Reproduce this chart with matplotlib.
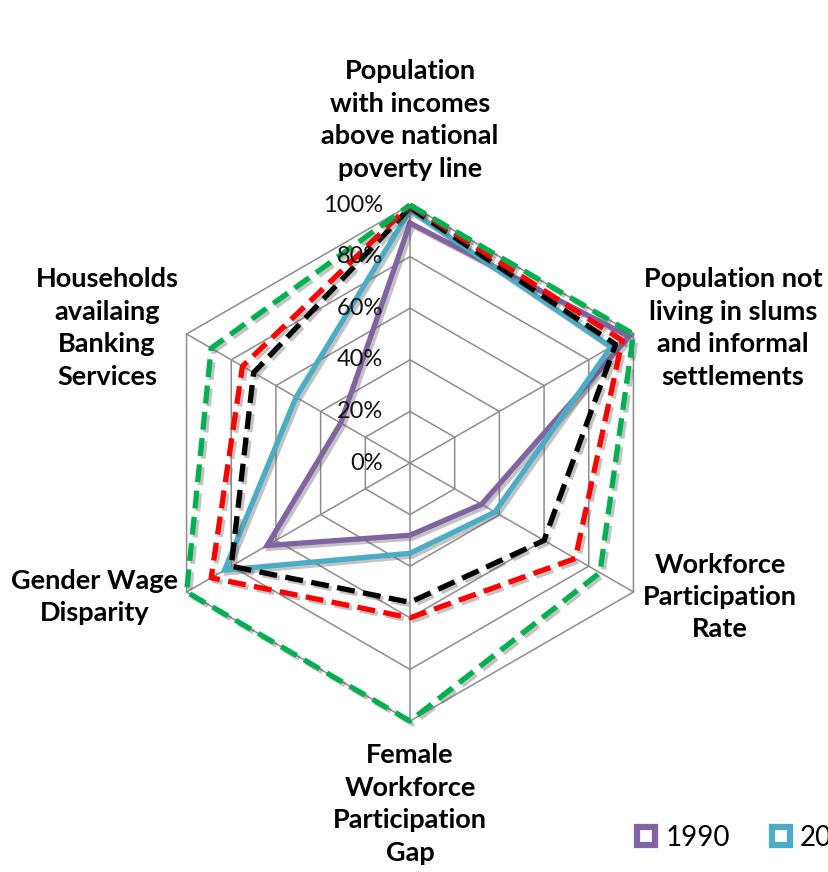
import numpy as np
import matplotlib.pyplot as plt
import matplotlib.patheffects as pe
from matplotlib.lines import Line2D

# Indicator axes, clockwise from the top
categories = ['Population\nwith incomes\nabove national\npoverty line',
              'Population not\nliving in slums\nand informal\nsettlements',
              'Workforce\nParticipation\nRate',
              'Female\nWorkforce\nParticipation\nGap',
              'Gender Wage\nDisparity',
              'Households\navailaing\nBanking\nServices']

years = ['1990', '2000', '2010', '2020', '2030']
v1990 = [93, 98, 32, 28, 64, 31]
v2000 = [98, 90, 38, 35, 83, 51]
v2010 = [99, 92, 60, 54, 80, 70]
v2020 = [100, 95, 74, 60, 89, 75]
v2030 = [100, 100, 85, 100, 100, 89]

grid_levels = [0, 20, 40, 60, 80, 100]
grid_labels = ['0%', '20%', '40%', '60%', '80%', '100%']

colors = ['#8064a2', '#4bacc6', '#000000', '#ff0000', '#00b050']
styles = ['-', '-', (0, (3.4, 1.6)), (0, (3.4, 1.6)), (0, (3.4, 1.6))]

W, H = 829, 872
fig = plt.figure(figsize=(W / 100, H / 100), dpi=100)

cx, cy, R = 410, 463, 258
ax = fig.add_axes([(cx - R) / W, 1 - (cy + R) / H, 2 * R / W, 2 * R / H],
                  projection='polar')
ax.set_theta_offset(np.pi / 2)
ax.set_theta_direction(-1)
ax.set_ylim(0, 100)
ax.grid(False)
ax.spines['polar'].set_visible(False)
ax.set_xticks([])
ax.set_yticks([])
ax.patch.set_alpha(0)

theta = np.linspace(0, 2 * np.pi, len(categories), endpoint=False)
theta_c = np.append(theta, theta[0])

# hexagonal grid and spokes
for lv in grid_levels:
    ax.plot(theta_c, [lv] * len(theta_c), color='#8c8c8c', lw=1.1, zorder=1,
            clip_on=False)
for t in theta:
    ax.plot([t, t], [0, 100], color='#8c8c8c', lw=1.1, zorder=1, clip_on=False)

shadow = [pe.SimpleLineShadow(offset=(2, -2), shadow_color='#555555', alpha=0.35),
          pe.Normal()]
series = [v1990, v2000, v2010, v2020, v2030]
for vals, c, ls, yr in zip(series, colors, styles, years):
    ax.plot(theta_c, vals + vals[:1], color=c, linestyle=ls, lw=3.8,
            solid_joinstyle='miter', clip_on=False, zorder=3,
            path_effects=shadow, label=yr)

# percentage labels along the top spoke
for lv, lab in zip(grid_levels, grid_labels):
    ax.annotate(lab, xy=(0, lv), xytext=(-27, 0), textcoords='offset pixels',
                ha='right', va='center', fontsize=17, family='Lato',
                color='#111111', zorder=4)

# category labels
label_pos = [(410, 120), (733, 328), (720, 597), (410, 804), (95, 597), (107, 328)]
for txt, (x, y) in zip(categories, label_pos):
    fig.text(x / W, 1 - y / H, txt, ha='center', va='center', fontsize=19.5,
             fontweight='bold', family='Lato', linespacing=1.42)

# legend runs off the right edge; only the first two entries reach the canvas
handles = [Line2D([], [], marker='s', linestyle='none', markersize=13.5,
                  markerfacecolor='white', markeredgecolor=c, markeredgewidth=4.5)
           for c in colors[:2]]
fig.legend(handles, years[:2], loc='center left', ncol=2, frameon=False,
           bbox_to_anchor=(632 / W, 1 - 838 / H), borderpad=0, borderaxespad=0,
           handlelength=1.0, handletextpad=0.2, columnspacing=1.33,
           prop={'family': 'Lato', 'size': 20})

fig.savefig('out.png', dpi=100)
